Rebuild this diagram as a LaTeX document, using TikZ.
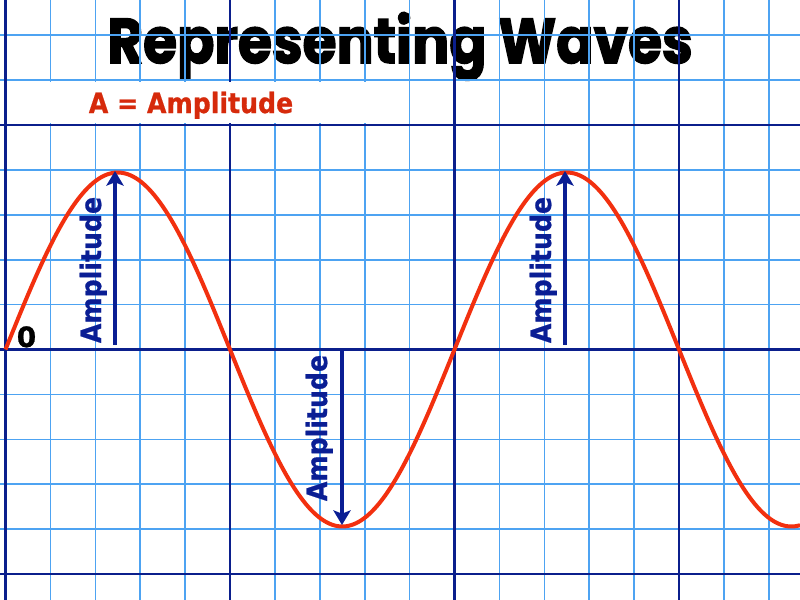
\documentclass[tikz,border=0pt]{standalone}
\usepackage{fontspec}
\setmainfont{DejaVu Sans}
\newfontfamily\titlefont{Poppins}
\usetikzlibrary{arrows.meta}
\definecolor{gridlight}{HTML}{4DA3F2}
\definecolor{griddark}{HTML}{0B1F8C}
\definecolor{wavered}{HTML}{F2300F}
\definecolor{textred}{HTML}{D62A0B}
\definecolor{ampblue}{HTML}{0A1E94}
\tikzset{
  lightline/.style={draw=gridlight, line width=1.2pt},
  darkline/.style={draw=griddark, line width=2.2pt},
  wave/.style={draw=wavered, line width=3pt},
  amparrow/.style={draw=ampblue, fill=ampblue, line width=2.3pt,
    -{Stealth[length=11pt,width=13pt,inset=2.5pt]}},
  amplabel/.style={text=ampblue, rotate=90, anchor=base, inner sep=0pt,
    font=\fontsize{21}{21}\selectfont\bfseries\addfontfeature{FakeBold=0.8}},
}
\begin{document}
\begin{tikzpicture}[x=0.75pt,y=-0.75pt]
\useasboundingbox (0,0) rectangle (800,600);
\clip (0,0) rectangle (800,600);
\fill[white] (0,0) rectangle (800,600);
% title (grid is drawn over it)
\node[anchor=base, inner sep=0pt] (title) at (400,63)
  {\resizebox{439pt}{38pt}{\titlefont\bfseries\addfontfeature{FakeBold=2.5}Representing Waves}};
% light grid
\foreach \k in {0,...,17}
  \draw[lightline] ({5.5+44.9*\k},0) -- ({5.5+44.9*\k},600);
\foreach \k in {-7,...,5}
  \draw[lightline] (0,{349.5+44.9*\k}) -- (800,{349.5+44.9*\k});
% dark grid
\foreach \k in {0,5,10,15}
  \draw[darkline] ({5.5+44.9*\k},0) -- ({5.5+44.9*\k},600);
\foreach \k in {-5,0,5}
  \draw[darkline] (0,{349.5+44.9*\k}) -- (800,{349.5+44.9*\k});
% white band with legend
\fill[white] (7,81.5) rectangle (372,123);
\node[anchor=base, inner sep=0pt, text=textred,
  font=\fontsize{21}{21}\selectfont\bfseries\addfontfeature{FakeBold=0.8}]
  (legend) at (191,113) {\scalebox{0.9}[1]{A = Amplitude}};
% wave
\draw[wave] plot[domain=5.5:800, samples=300, smooth]
  (\x,{349.5-177*sin(((\x-5.5)/449)*360)});
% arrows
\coordinate (a1s) at (115,345);
\coordinate (a1e) at (115,171);
\coordinate (a2s) at (342,350);
\coordinate (a2e) at (342,525);
\coordinate (a3s) at (565,345);
\coordinate (a3e) at (565,171);
\draw[amparrow] (a1s) -- (a1e);
\draw[amparrow] (a2s) -- (a2e);
\draw[amparrow] (a3s) -- (a3e);
\node[amplabel] (l1) at (101,270) {\scalebox{0.9}[1]{Amplitude}};
\node[amplabel] (l2) at (327,428) {\scalebox{0.9}[1]{Amplitude}};
\node[amplabel] (l3) at (551,270) {\scalebox{0.9}[1]{Amplitude}};
% zero
\node[anchor=base, inner sep=0pt,
  font=\fontsize{21}{21}\selectfont\bfseries\addfontfeature{FakeBold=0.8}]
  (zero) at (26.5,347) {0};
\end{tikzpicture}
\end{document}
